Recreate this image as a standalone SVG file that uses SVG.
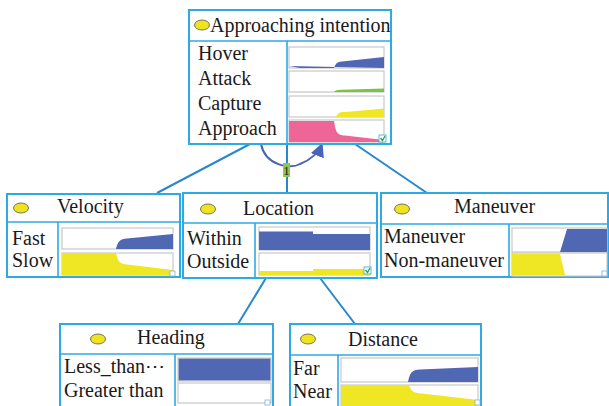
<svg xmlns="http://www.w3.org/2000/svg" width="609" height="406" viewBox="0 0 609 406">
<defs>
<style>
.box{fill:#fff;stroke:#2fa9e4;stroke-width:2}
.div{stroke:#2fa9e4;stroke-width:1.6;fill:none}
.t{font-family:"Liberation Serif","Times New Roman",serif;font-size:20px;fill:#1a1a1a}
.ell{fill:#efe31f;stroke:#555;stroke-width:0.8}
.ch{fill:#fff;stroke:#c8c8c8;stroke-width:1.2}
.blue{fill:#5067b4}
.yel{fill:#efe624}
.grn{fill:#7cc243}
.pink{fill:#ee6697}
.con{stroke:#2887cf;stroke-width:2;fill:none}
.ico{fill:#fff;stroke:#7fb3d8;stroke-width:0.8}
</style>
<marker id="ah" viewBox="0 0 10 10" refX="9" refY="5" markerWidth="7" markerHeight="7" orient="auto">
<path d="M0,0 L10,5 L0,10 z" fill="#4a62b8"/>
</marker>
</defs>

<g id="connectors">
<line class="con" x1="250" y1="144" x2="157" y2="193"/>
<line class="con" x1="287" y1="144" x2="287" y2="193"/>
<line class="con" x1="355" y1="144" x2="427" y2="193"/>
<line class="con" x1="266" y1="278" x2="238" y2="324"/>
<line class="con" x1="320" y1="278" x2="355" y2="324"/>
<path d="M261,144 C265,165 290,170 300,164 C310,160 318,154 322,144" fill="none" stroke="#4a62b8" stroke-width="2" marker-end="url(#ah)"/>
<rect x="283" y="163" width="7" height="14" fill="#8cc850"/>
<text x="286.5" y="175" text-anchor="middle" style="font-family:'Liberation Serif',serif;font-size:13px;fill:#1a1a1a">1</text>
</g>

<g id="node-approaching">
<rect class="box" x="189" y="10" width="202" height="134"/>
<line class="div" x1="189" y1="41" x2="391" y2="41"/>
<line class="div" x1="287" y1="41" x2="287" y2="144"/>
<ellipse class="ell" cx="202" cy="25" rx="7.5" ry="5"/>
<text class="t" x="210" y="32">Approaching intention</text>
<text class="t" x="198" y="60">Hover</text>
<text class="t" x="198" y="85">Attack</text>
<text class="t" x="198" y="110">Capture</text>
<text class="t" x="198" y="135">Approach</text>
<rect class="ch" x="289" y="47" width="95" height="21"/>
<path class="blue" d="M289,66 L300,68 L334,68 C336,63 337,62 342,61.5 L384,57 L384,68 Z"/>
<rect class="ch" x="289" y="71" width="95" height="21"/>
<path class="grn" d="M334,92 C336,90 337,90 342,89.8 L384,88.5 L384,92 Z"/>
<rect class="ch" x="289" y="96" width="95" height="21"/>
<path class="yel" d="M336,117 C339,112 340,112 346,112 L384,108.5 L384,117 Z"/>
<rect class="ch" x="289" y="120" width="95" height="22"/>
<path class="pink" d="M289,121 L334,121 C336,133 337,135 345,135.5 L384,140 L384,142 L289,142 Z"/>
<rect x="379" y="135" width="7" height="7" fill="#fff" stroke="#2fa9e4" stroke-width="0.8"/>
<path d="M380.5,138 L382.5,140.5 L385,136" stroke="#2ca24a" stroke-width="1.3" fill="none"/>
</g>

<g id="node-velocity">
<rect class="box" x="7" y="194" width="173" height="83"/>
<line class="div" x1="7" y1="222" x2="180" y2="222"/>
<line class="div" x1="58" y1="222" x2="58" y2="277"/>
<ellipse class="ell" cx="21" cy="208" rx="7.5" ry="5"/>
<text class="t" x="57" y="213">Velocity</text>
<text class="t" x="12" y="245">Fast</text>
<text class="t" x="12" y="267">Slow</text>
<rect class="ch" x="62" y="228" width="111" height="21"/>
<path class="blue" d="M116,249 C118,241 120,239 127,238.5 L173,234 L173,249 Z"/>
<rect class="ch" x="62" y="253" width="111" height="22"/>
<path class="yel" d="M62,253 L116,253 C118,262 120,264 127,264.5 L173,270 L173,275 L62,275 Z"/>
<rect class="ico" x="170" y="271" width="5" height="5"/>
</g>

<g id="node-location">
<rect class="box" x="183" y="193" width="194" height="85"/>
<line class="div" x1="183" y1="223" x2="377" y2="223"/>
<line class="div" x1="255" y1="223" x2="255" y2="278"/>
<ellipse class="ell" cx="208" cy="209" rx="7.5" ry="5"/>
<text class="t" x="243" y="215">Location</text>
<text class="t" x="187" y="245">Within</text>
<text class="t" x="187" y="268">Outside</text>
<rect class="ch" x="259" y="227" width="111" height="23"/>
<path class="blue" d="M259,231.5 L313,231.5 L313,234 L370,234 L370,250 L259,250 Z"/>
<rect class="ch" x="259" y="253" width="111" height="22"/>
<path class="yel" d="M259,271 L313,271 L313,269 L370,269 L370,275 L259,275 Z"/>
<rect x="364" y="267" width="7" height="7" fill="#fff" stroke="#2fa9e4" stroke-width="0.8"/>
<path d="M365.5,270 L367.5,272.5 L370,268" stroke="#2ca24a" stroke-width="1.3" fill="none"/>
</g>

<g id="node-maneuver">
<rect class="box" x="381" y="193" width="227" height="84"/>
<line class="div" x1="381" y1="224" x2="608" y2="224"/>
<line class="div" x1="509" y1="224" x2="509" y2="277"/>
<ellipse class="ell" cx="402" cy="209" rx="7.5" ry="5"/>
<text class="t" x="454" y="213">Maneuver</text>
<text class="t" x="384" y="243">Maneuver</text>
<text class="t" x="384" y="267">Non-maneuver</text>
<rect class="ch" x="512" y="228" width="95" height="24"/>
<path class="blue" d="M567,229 L607,229 L607,252 L560,252 Z"/>
<rect class="ch" x="512" y="253" width="95" height="23"/>
<path class="yel" d="M512,254 L560,254 L565,275 L512,275 Z"/>
<rect class="ico" x="602" y="271" width="5" height="5"/>
</g>

<g id="node-heading">
<rect class="box" x="60" y="324" width="213" height="90"/>
<line class="div" x1="60" y1="354" x2="273" y2="354"/>
<line class="div" x1="175" y1="354" x2="175" y2="406"/>
<ellipse class="ell" cx="98" cy="339" rx="7.5" ry="5"/>
<text class="t" x="137" y="344">Heading</text>
<text class="t" x="64" y="373">Less_than⋯</text>
<text class="t" x="64" y="397">Greater than</text>
<rect class="ch" x="178" y="358" width="93" height="23"/>
<rect class="blue" x="178.6" y="358.6" width="91.8" height="21.8"/>
<rect class="ch" x="178" y="383" width="93" height="20"/>
<rect class="ico" x="265" y="400" width="5" height="5"/>
</g>

<g id="node-distance">
<rect class="box" x="290" y="324" width="191" height="90"/>
<line class="div" x1="290" y1="355" x2="481" y2="355"/>
<line class="div" x1="338" y1="355" x2="338" y2="406"/>
<ellipse class="ell" cx="308" cy="339" rx="7.5" ry="5"/>
<text class="t" x="348" y="346">Distance</text>
<text class="t" x="293" y="375">Far</text>
<text class="t" x="293" y="398">Near</text>
<rect class="ch" x="341" y="358" width="137" height="24"/>
<path class="blue" d="M408,382 C410,372 412,370 420,369.5 L478,367 L478,382 Z"/>
<rect class="ch" x="341" y="385" width="137" height="22"/>
<path class="yel" d="M341,385 L409,385 C411,391 413,393 422,393.5 L478,400 L478,407 L341,407 Z"/>
<rect class="ico" x="475" y="400" width="5" height="5"/>
</g>
</svg>
